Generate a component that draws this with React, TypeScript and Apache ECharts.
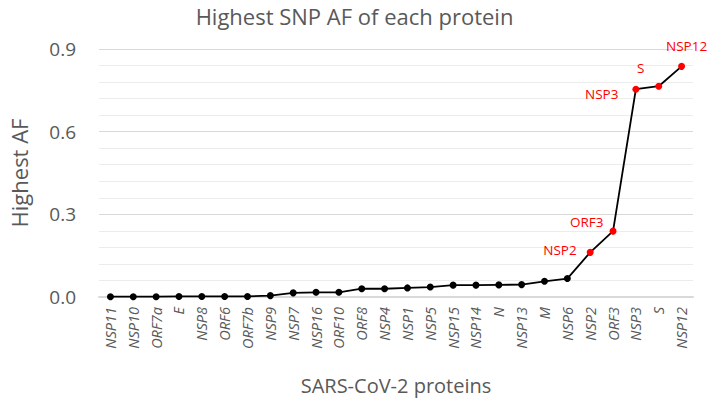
import React, { useEffect, useRef } from "react";
import * as echarts from "echarts";

const categories = [
  "NSP11", "NSP10", "ORF7a", "E", "NSP8", "ORF6", "ORF7b", "NSP9", "NSP7", "NSP16",
  "ORF10", "ORF8", "NSP4", "NSP1", "NSP5", "NSP15", "NSP14", "N", "NSP13", "M",
  "NSP6", "NSP2", "ORF3", "NSP3", "S", "NSP12",
];
const values = [
  0.001, 0.001, 0.001, 0.002, 0.002, 0.002, 0.002, 0.005, 0.015, 0.017,
  0.017, 0.030, 0.030, 0.033, 0.036, 0.043, 0.043, 0.044, 0.045, 0.057,
  0.067, 0.162, 0.239, 0.754, 0.765, 0.837,
];
const highlighted = ["NSP2", "ORF3", "NSP3", "S", "NSP12"];
const yTicks = [0, 0.3, 0.6, 0.9];

const FONT = "'Open Sans', 'Noto Sans', sans-serif";
const GREY = "#595959";
const RED = "#ff0000";

const labelPlacement: Record<string, any> = {
  NSP2: { position: "left", distance: 10, offset: [0, -2] },
  ORF3: { position: "left", distance: 6, offset: [0, -9] },
  NSP3: { position: "left", distance: 14, offset: [0, 5] },
  S: { position: "top", distance: 8, offset: [-18, 0] },
  NSP12: { position: "top", distance: 10, offset: [5, 0] },
};

export default function App() {
  const ref = useRef<HTMLDivElement>(null);
  useEffect(() => {
    if (!ref.current) return;
    const chart = echarts.init(ref.current, null, { renderer: "svg" });
    const data = values.map((v, i) => {
      const name = categories[i];
      if (highlighted.includes(name)) {
        const p = labelPlacement[name];
        return {
          value: v,
          itemStyle: { color: RED },
          label: {
            show: true,
            formatter: name,
            color: RED,
            fontSize: 13.5,
            fontFamily: FONT,
            position: p.position,
            distance: p.distance,
            offset: p.offset,
          },
        };
      }
      return { value: v };
    });
    chart.setOption({
      animation: false,
      backgroundColor: "#ffffff",
      title: {
        text: "Highest SNP AF of each protein",
        left: "center",
        top: 0,
        textStyle: { fontFamily: FONT, fontSize: 22, fontWeight: "normal", color: GREY },
      },
      grid: { left: 93, right: 16, top: 49, bottom: 103, containLabel: false },
      xAxis: {
        type: "category",
        data: categories,
        boundaryGap: true,
        name: "SARS-CoV-2 proteins",
        nameLocation: "middle",
        nameGap: 78,
        nameTextStyle: { fontFamily: FONT, fontSize: 20, color: GREY },
        axisLine: { show: true, lineStyle: { color: "#d9d9d9", width: 2 } },
        axisTick: { show: false },
        axisLabel: {
          rotate: 90,
          interval: 0,
          margin: 10,
          fontFamily: FONT,
          fontSize: 14.5,
          fontStyle: "italic",
          color: GREY,
        },
      },
      yAxis: {
        type: "value",
        min: 0,
        max: 0.9,
        interval: 0.3,
        name: "Highest AF",
        nameLocation: "middle",
        nameGap: 69,
        nameTextStyle: { fontFamily: FONT, fontSize: 22, color: GREY },
        axisLine: { show: false },
        axisTick: { show: false },
        axisLabel: {
          margin: 23,
          fontFamily: FONT,
          fontSize: 19,
          color: GREY,
          formatter: (v: number) => (yTicks.some((t) => Math.abs(t - v) < 1e-9) ? v.toFixed(1) : ""),
        },
        splitLine: { show: true, lineStyle: { color: "#d9d9d9", width: 1 } },
        minorTick: { show: false, splitNumber: 5 },
        minorSplitLine: { show: true, lineStyle: { color: "#ececec", width: 1 } },
      },
      series: [
        {
          type: "line",
          data,
          symbol: "circle",
          symbolSize: 7,
          itemStyle: { color: "#000000" },
          lineStyle: { color: "#000000", width: 1.8 },
          label: { show: false },
        },
      ],
    });
    return () => chart.dispose();
  }, []);
  return <div ref={ref} style={{ width: 709, height: 400, position: "absolute", left: 0, top: 0 }} />;
}
